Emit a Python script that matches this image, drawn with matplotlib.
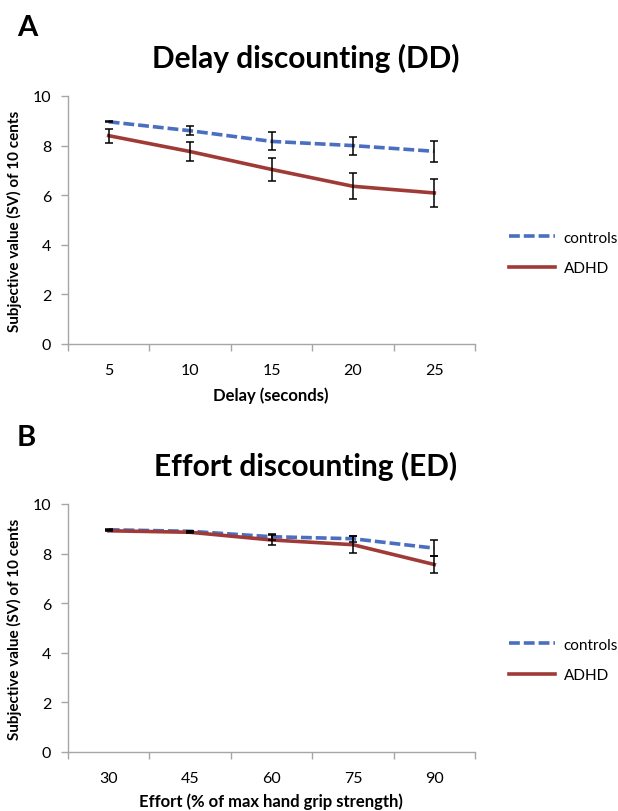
import numpy as np
import matplotlib.pyplot as plt

plt.rcParams['font.family'] = ['Lato', 'DejaVu Sans']

# panel A: delay discounting
delays = ['5', '10', '15', '20', '25']
dd_controls = [8.96, 8.60, 8.17, 8.00, 7.77]
dd_controls_err = [0.02, 0.18, 0.36, 0.36, 0.42]
dd_adhd = [8.40, 7.76, 7.04, 6.36, 6.09]
dd_adhd_err = [0.28, 0.40, 0.48, 0.53, 0.57]

# panel B: effort discounting
efforts = ['30', '45', '60', '75', '90']
ed_controls = [8.96, 8.90, 8.68, 8.60, 8.22]
ed_controls_err = [0.02, 0.03, 0.12, 0.12, 0.31]
ed_adhd = [8.92, 8.86, 8.55, 8.36, 7.56]
ed_adhd_err = [0.02, 0.04, 0.22, 0.35, 0.36]

blue = '#4a6ec0'
red = '#a03a36'
grey = '#a6a6a6'

fig = plt.figure(figsize=(6.18, 8.12), dpi=100)


def panel(rect, cats, ctl, ctl_err, adhd, adhd_err, title, xlabel, letter, letter_y, title_y, xlab_y, leg_y):
    ax = fig.add_axes(rect)
    x = np.arange(len(cats))
    l1, = ax.plot(x, ctl, color=blue, lw=2.6, ls=(0, (3.0, 1.1)), zorder=2)
    l2, = ax.plot(x, adhd, color=red, lw=2.6, zorder=2)
    ax.errorbar(x, ctl, yerr=ctl_err, fmt='none', ecolor='black', elinewidth=1.1, capsize=2.6, capthick=1.1, zorder=3)
    ax.errorbar(x, adhd, yerr=adhd_err, fmt='none', ecolor='black', elinewidth=1.1, capsize=2.6, capthick=1.1, zorder=3)

    ax.set_xlim(-0.5, len(cats) - 0.5)
    ax.set_ylim(0, 10)
    ax.set_yticks([0, 2, 4, 6, 8, 10])
    ax.set_xticks(x)
    ax.set_xticklabels(cats)
    ax.set_xticks(np.arange(len(cats) + 1) - 0.5, minor=True)
    ax.tick_params(axis='x', which='major', length=0, pad=14, labelsize=11.5)
    ax.tick_params(axis='x', which='minor', length=5, color=grey, width=1, direction='out')
    ax.tick_params(axis='y', length=5, color=grey, width=1, direction='out', labelsize=11.5, pad=7)
    for s in ['top', 'right']:
        ax.spines[s].set_visible(False)
    for s in ['left', 'bottom']:
        ax.spines[s].set_color(grey)
        ax.spines[s].set_linewidth(1)

    ax.set_ylabel('Subjective value (SV) of 10 cents', fontsize=11, fontweight='bold', labelpad=8)
    fig.text(271 / 618, 1 - xlab_y / 812, xlabel, fontsize=12, fontweight='bold', ha='center', va='center')

    fig.text(306 / 618, 1 - title_y / 812, title, fontsize=21.5, fontweight='bold', ha='center', va='center')
    fig.text(17 / 618, 1 - letter_y / 812, letter, fontsize=21, fontweight='bold', ha='left', va='center')

    fig.legend([l1, l2], ['controls', 'ADHD'], loc='center left',
               bbox_to_anchor=(495 / 618, 1 - leg_y / 812), frameon=False, fontsize=11,
               handlelength=3.0, handletextpad=0.6, labelspacing=1.1)
    return ax


panel([68 / 618, 1 - 345 / 812, 407 / 618, 248 / 812], delays,
      dd_controls, dd_controls_err, dd_adhd, dd_adhd_err,
      'Delay discounting (DD)', 'Delay (seconds)', 'A', 28, 58, 396, 254)

panel([68 / 618, 1 - 753 / 812, 407 / 618, 248 / 812], efforts,
      ed_controls, ed_controls_err, ed_adhd, ed_adhd_err,
      'Effort discounting (ED)', 'Effort (% of max hand grip strength)', 'B', 438, 466, 802, 661)

fig.savefig('out.png', dpi=100, facecolor='white')
